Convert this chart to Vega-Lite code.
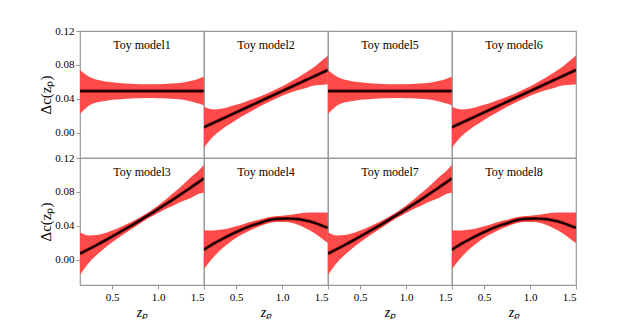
{
  "$schema": "https://vega.github.io/schema/vega-lite/v6.json",
  "padding": {"left": 38, "top": 25, "right": 5, "bottom": 0},
  "background": "white",
  "bounds": "flush",
  "config": {
    "view": {"stroke": "#999999", "strokeWidth": 1.2},
    "font": "Liberation Serif",
    "axis": {"grid": false, "domain": false, "tickColor": "#999999", "labelFont": "Liberation Serif", "labelFontSize": 11, "labelColor": "#000000", "titleFont": "Liberation Serif", "titleFontWeight": "normal", "titleFontSize": 15, "titleColor": "#000000"}
  },
  "data": {"values": [
    {"x": 0.15, "y": 0.049, "lo": 0.022, "hi": 0.074, "panels": ["Toy model1", "Toy model5"]},
    {"x": 0.25, "y": 0.049, "lo": 0.032, "hi": 0.066, "panels": ["Toy model1", "Toy model5"]},
    {"x": 0.35, "y": 0.049, "lo": 0.036, "hi": 0.062, "panels": ["Toy model1", "Toy model5"]},
    {"x": 0.45, "y": 0.049, "lo": 0.038, "hi": 0.060, "panels": ["Toy model1", "Toy model5"]},
    {"x": 0.55, "y": 0.049, "lo": 0.039, "hi": 0.059, "panels": ["Toy model1", "Toy model5"]},
    {"x": 0.65, "y": 0.049, "lo": 0.040, "hi": 0.058, "panels": ["Toy model1", "Toy model5"]},
    {"x": 0.75, "y": 0.049, "lo": 0.0405, "hi": 0.0575, "panels": ["Toy model1", "Toy model5"]},
    {"x": 0.85, "y": 0.049, "lo": 0.041, "hi": 0.057, "panels": ["Toy model1", "Toy model5"]},
    {"x": 0.95, "y": 0.049, "lo": 0.041, "hi": 0.057, "panels": ["Toy model1", "Toy model5"]},
    {"x": 1.05, "y": 0.049, "lo": 0.0405, "hi": 0.0575, "panels": ["Toy model1", "Toy model5"]},
    {"x": 1.15, "y": 0.049, "lo": 0.040, "hi": 0.058, "panels": ["Toy model1", "Toy model5"]},
    {"x": 1.25, "y": 0.049, "lo": 0.039, "hi": 0.059, "panels": ["Toy model1", "Toy model5"]},
    {"x": 1.35, "y": 0.049, "lo": 0.037, "hi": 0.061, "panels": ["Toy model1", "Toy model5"]},
    {"x": 1.45, "y": 0.049, "lo": 0.034, "hi": 0.064, "panels": ["Toy model1", "Toy model5"]},
    {"x": 1.5, "y": 0.049, "lo": 0.032, "hi": 0.066, "panels": ["Toy model1", "Toy model5"]},
    {"x": 0.15, "y": 0.0064, "lo": -0.0176, "hi": 0.0304, "panels": ["Toy model2", "Toy model6"]},
    {"x": 0.25, "y": 0.0114, "lo": -0.0046, "hi": 0.0274, "panels": ["Toy model2", "Toy model6"]},
    {"x": 0.35, "y": 0.0164, "lo": 0.0044, "hi": 0.0284, "panels": ["Toy model2", "Toy model6"]},
    {"x": 0.45, "y": 0.0214, "lo": 0.0114, "hi": 0.0314, "panels": ["Toy model2", "Toy model6"]},
    {"x": 0.55, "y": 0.0264, "lo": 0.0184, "hi": 0.0344, "panels": ["Toy model2", "Toy model6"]},
    {"x": 0.65, "y": 0.0314, "lo": 0.0244, "hi": 0.0384, "panels": ["Toy model2", "Toy model6"]},
    {"x": 0.75, "y": 0.0364, "lo": 0.0304, "hi": 0.0424, "panels": ["Toy model2", "Toy model6"]},
    {"x": 0.85, "y": 0.0414, "lo": 0.0359, "hi": 0.0469, "panels": ["Toy model2", "Toy model6"]},
    {"x": 0.95, "y": 0.0465, "lo": 0.041, "hi": 0.052, "panels": ["Toy model2", "Toy model6"]},
    {"x": 1.05, "y": 0.0515, "lo": 0.0455, "hi": 0.0575, "panels": ["Toy model2", "Toy model6"]},
    {"x": 1.15, "y": 0.0565, "lo": 0.0495, "hi": 0.0635, "panels": ["Toy model2", "Toy model6"]},
    {"x": 1.25, "y": 0.0615, "lo": 0.0525, "hi": 0.0705, "panels": ["Toy model2", "Toy model6"]},
    {"x": 1.35, "y": 0.0665, "lo": 0.0555, "hi": 0.0775, "panels": ["Toy model2", "Toy model6"]},
    {"x": 1.45, "y": 0.0715, "lo": 0.0565, "hi": 0.0865, "panels": ["Toy model2", "Toy model6"]},
    {"x": 1.5, "y": 0.074, "lo": 0.057, "hi": 0.091, "panels": ["Toy model2", "Toy model6"]},
    {"x": 0.15, "y": 0.0070, "lo": -0.018, "hi": 0.032, "panels": ["Toy model3", "Toy model7"]},
    {"x": 0.25, "y": 0.0126, "lo": -0.0034, "hi": 0.0286, "panels": ["Toy model3", "Toy model7"]},
    {"x": 0.35, "y": 0.0183, "lo": 0.0073, "hi": 0.0293, "panels": ["Toy model3", "Toy model7"]},
    {"x": 0.45, "y": 0.0243, "lo": 0.0163, "hi": 0.0323, "panels": ["Toy model3", "Toy model7"]},
    {"x": 0.55, "y": 0.0303, "lo": 0.0243, "hi": 0.0363, "panels": ["Toy model3", "Toy model7"]},
    {"x": 0.65, "y": 0.0366, "lo": 0.0316, "hi": 0.0416, "panels": ["Toy model3", "Toy model7"]},
    {"x": 0.75, "y": 0.0429, "lo": 0.0389, "hi": 0.0469, "panels": ["Toy model3", "Toy model7"]},
    {"x": 0.85, "y": 0.0495, "lo": 0.046, "hi": 0.053, "panels": ["Toy model3", "Toy model7"]},
    {"x": 0.95, "y": 0.0562, "lo": 0.0522, "hi": 0.0602, "panels": ["Toy model3", "Toy model7"]},
    {"x": 1.05, "y": 0.0631, "lo": 0.0581, "hi": 0.0681, "panels": ["Toy model3", "Toy model7"]},
    {"x": 1.15, "y": 0.0701, "lo": 0.0631, "hi": 0.0771, "panels": ["Toy model3", "Toy model7"]},
    {"x": 1.25, "y": 0.0773, "lo": 0.0683, "hi": 0.0863, "panels": ["Toy model3", "Toy model7"]},
    {"x": 1.35, "y": 0.0846, "lo": 0.0726, "hi": 0.0966, "panels": ["Toy model3", "Toy model7"]},
    {"x": 1.45, "y": 0.0922, "lo": 0.0782, "hi": 0.1062, "panels": ["Toy model3", "Toy model7"]},
    {"x": 1.5, "y": 0.0960, "lo": 0.079, "hi": 0.112, "panels": ["Toy model3", "Toy model7"]},
    {"x": 0.15, "y": 0.0118, "lo": -0.0112, "hi": 0.0348, "panels": ["Toy model4", "Toy model8"]},
    {"x": 0.25, "y": 0.0185, "lo": 0.0025, "hi": 0.0345, "panels": ["Toy model4", "Toy model8"]},
    {"x": 0.35, "y": 0.0245, "lo": 0.0135, "hi": 0.0355, "panels": ["Toy model4", "Toy model8"]},
    {"x": 0.45, "y": 0.030, "lo": 0.022, "hi": 0.038, "panels": ["Toy model4", "Toy model8"]},
    {"x": 0.55, "y": 0.035, "lo": 0.029, "hi": 0.041, "panels": ["Toy model4", "Toy model8"]},
    {"x": 0.65, "y": 0.0395, "lo": 0.0345, "hi": 0.0445, "panels": ["Toy model4", "Toy model8"]},
    {"x": 0.75, "y": 0.043, "lo": 0.039, "hi": 0.047, "panels": ["Toy model4", "Toy model8"]},
    {"x": 0.85, "y": 0.0465, "lo": 0.043, "hi": 0.050, "panels": ["Toy model4", "Toy model8"]},
    {"x": 0.95, "y": 0.048, "lo": 0.0445, "hi": 0.0515, "panels": ["Toy model4", "Toy model8"]},
    {"x": 1.05, "y": 0.0485, "lo": 0.0445, "hi": 0.0525, "panels": ["Toy model4", "Toy model8"]},
    {"x": 1.15, "y": 0.048, "lo": 0.042, "hi": 0.054, "panels": ["Toy model4", "Toy model8"]},
    {"x": 1.25, "y": 0.0463, "lo": 0.0373, "hi": 0.0553, "panels": ["Toy model4", "Toy model8"]},
    {"x": 1.35, "y": 0.0435, "lo": 0.0315, "hi": 0.0555, "panels": ["Toy model4", "Toy model8"]},
    {"x": 1.45, "y": 0.0395, "lo": 0.0235, "hi": 0.0555, "panels": ["Toy model4", "Toy model8"]},
    {"x": 1.5, "y": 0.0375, "lo": 0.0195, "hi": 0.0555, "panels": ["Toy model4", "Toy model8"]}
  ]},
  "transform": [{"flatten": ["panels"], "as": ["panel"]}],
  "facet": {
    "field": "panel", "type": "nominal",
    "sort": ["Toy model1", "Toy model2", "Toy model5", "Toy model6", "Toy model3", "Toy model4", "Toy model7", "Toy model8"],
    "header": {"title": null, "labelFont": "Liberation Serif", "labelFontSize": 12, "labelColor": "#000000", "labelPadding": -21}
  },
  "columns": 4,
  "spacing": 0,
  "spec": {
    "width": 124,
    "height": 127,
    "encoding": {
      "x": {"field": "x", "type": "quantitative", "scale": {"domain": [0.15, 1.5], "nice": false, "zero": false},
            "axis": {"values": [0.5, 1.0, 1.5], "format": ".1f", "title": "zₚ", "titleFontStyle": "italic", "titleFontSize": 14, "tickSize": 4, "labelPadding": 2, "titlePadding": 3}},
      "y": {"field": "y", "type": "quantitative", "scale": {"domain": [-0.03, 0.12], "nice": false, "zero": false},
            "axis": {"values": [0, 0.04, 0.08, 0.12], "format": ".2f", "title": "Δc(zₚ)", "tickSize": 4, "labelPadding": 2, "titlePadding": 1}}
    },
    "layer": [
      {"mark": {"type": "area", "color": "#ff4a4a", "interpolate": "monotone", "clip": true},
       "encoding": {"y": {"field": "lo", "type": "quantitative"}, "y2": {"field": "hi"}}},
      {"mark": {"type": "line", "color": "#7a0a0a", "strokeWidth": 3.2, "interpolate": "monotone", "clip": true}},
      {"mark": {"type": "line", "color": "#000000", "strokeWidth": 1.5, "interpolate": "monotone", "clip": true}}
    ]
  }
}
